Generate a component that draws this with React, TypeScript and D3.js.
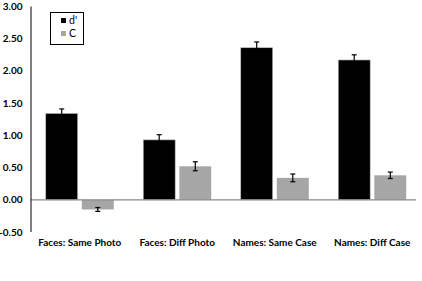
import React from "react";
import * as d3 from "d3";

const categories = ["Faces: Same Photo", "Faces: Diff Photo", "Names: Same Case", "Names: Diff Case"];
const seriesNames = ["d'", "C"];
const dprime = [1.34, 0.93, 2.36, 2.17];
const dprimeErr = [0.07, 0.08, 0.09, 0.08];
const cValues = [-0.15, 0.52, 0.34, 0.38];
const cErr = [0.03, 0.07, 0.06, 0.05];
const yTicks = [-0.5, 0, 0.5, 1, 1.5, 2, 2.5, 3];
const colors = ["#000000", "#a6a6a6"];

export default function App() {
  const W = 422, H = 281;
  const left = 31, right = 421;
  const y = d3.scaleLinear().domain([-0.5, 3]).range([232, 6.5]);
  const x0 = d3.scaleBand().domain(categories).range([left, right]);
  const x1 = d3.scaleBand().domain(seriesNames).range([x0.bandwidth() / 2 - 34, x0.bandwidth() / 2 + 34]).paddingInner(0.115);
  const series = [
    { name: seriesNames[0], vals: dprime, errs: dprimeErr },
    { name: seriesNames[1], vals: cValues, errs: cErr },
  ];
  const font = "Lato, 'Open Sans', sans-serif";
  return (
    <svg width={W} height={H} style={{ position: "absolute", left: 0, top: 0, background: "#fff" }}>
      {yTicks.map((t) => (
        <text key={t} x={22.5} y={y(t)} dy="0.35em" textAnchor="end" fontFamily={font} fontWeight="bold" fontSize={10} fill="#000">
          {t.toFixed(2)}
        </text>
      ))}
      {series.map((s, si) =>
        categories.map((c, i) => {
          const v = s.vals[i];
          const bx = (x0(c) as number) + (x1(s.name) as number);
          const bw = x1.bandwidth();
          const top = Math.min(y(v), y(0));
          const h = Math.abs(y(v) - y(0));
          const cx = bx + bw / 2;
          const e1 = y(v + s.errs[i]);
          const e2 = y(v - s.errs[i]);
          return (
            <g key={s.name + c}>
              <rect x={bx} y={top} width={bw} height={h} fill={colors[si]} stroke={si === 0 ? "#bbb" : "none"} strokeWidth={0.6} />
              <line x1={cx} x2={cx} y1={e1} y2={e2} stroke="#000" strokeWidth={1.2} />
              <line x1={cx - 2.5} x2={cx + 2.5} y1={e1} y2={e1} stroke="#000" strokeWidth={1.2} />
              <line x1={cx - 2.5} x2={cx + 2.5} y1={e2} y2={e2} stroke="#000" strokeWidth={1.2} />
            </g>
          );
        })
      )}
      <line x1={left} x2={416} y1={y(0)} y2={y(0)} stroke="#888" strokeWidth={1.2} />
      <line x1={left} x2={left} y1={y(3)} y2={y(-0.5)} stroke="#000" strokeWidth={1} />
      {categories.map((c) => (
        <text key={c} x={(x0(c) as number) + x0.bandwidth() / 2} y={246} textAnchor="middle" fontFamily={font} fontWeight="bold" fontSize={10} fill="#000">
          {c}
        </text>
      ))}
      <rect x={50.5} y={12.5} width={33} height={32} fill="#fff" stroke="#000" strokeWidth={1} />
      {seriesNames.map((n, i) => (
        <g key={n}>
          <rect x={61} y={18 + i * 13} width={5} height={5} fill={colors[i]} />
          <text x={69} y={20.5 + i * 13} dy="0.35em" fontFamily={font} fontSize={10.5} fill="#000">{n}</text>
        </g>
      ))}
    </svg>
  );
}
